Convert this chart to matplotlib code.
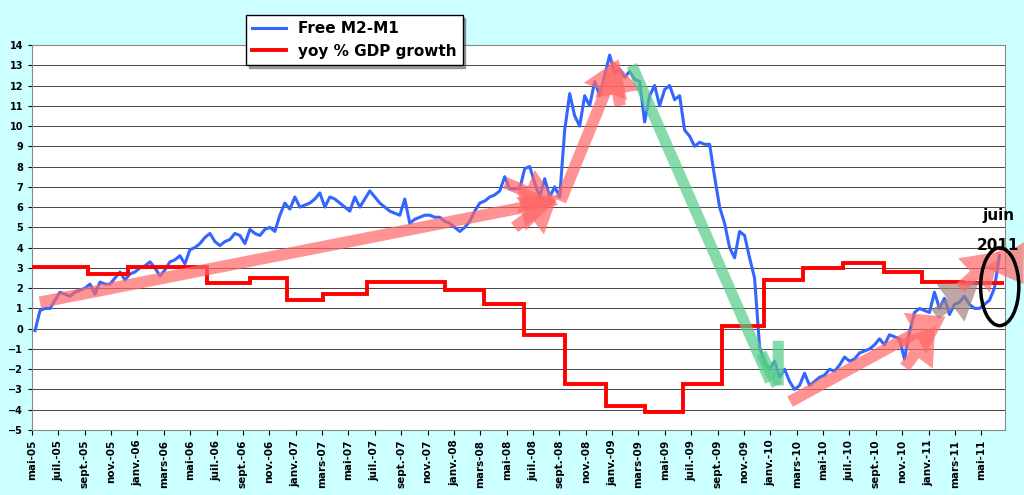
import numpy as np
import matplotlib.pyplot as plt
from matplotlib.patches import Ellipse

# x positions are months since mai-05
tick_labels = ["mai-05", "juil.-05", "sept.-05", "nov.-05", "janv.-06", "mars-06",
               "mai-06", "juil.-06", "sept.-06", "nov.-06", "janv.-07", "mars-07",
               "mai-07", "juil.-07", "sept.-07", "nov.-07", "janv.-08", "mars-08",
               "mai-08", "juil.-08", "sept.-08", "nov.-08", "janv.-09", "mars-09",
               "mai-09", "juil.-09", "sept.-09", "nov.-09", "janv.-10", "mars-10",
               "mai-10", "juil.-10", "sept.-10", "nov.-10", "janv.-11", "mars-11",
               "mai-11"]

# Free M2-M1, sampled about every 0.38 month starting 0.23 month after mai-05
m2m1_start = 0.23
m2m1_step = 0.379
m2m1 = [-0.1, 0.9, 1.0, 1.0, 1.4, 1.8, 1.7, 1.6, 1.8, 1.9, 2.0, 2.2, 1.7, 2.3, 2.2, 2.2,
        2.5, 2.8, 2.4, 2.7, 2.8, 3.0, 3.1, 3.3, 3.0, 2.6, 2.9, 3.3, 3.4, 3.6, 3.2, 3.9,
        4.0, 4.2, 4.5, 4.7, 4.3, 4.1, 4.3, 4.4, 4.7, 4.6, 4.2, 4.9, 4.7, 4.6, 4.9, 5.0,
        4.8, 5.6, 6.2, 5.9, 6.5, 6.0, 6.1, 6.2, 6.4, 6.7, 6.0, 6.5, 6.4, 6.2, 6.0, 5.8,
        6.5, 6.0, 6.4, 6.8, 6.5, 6.2, 6.0, 5.8, 5.7, 5.6, 6.4, 5.2, 5.4, 5.5, 5.6, 5.6,
        5.5, 5.5, 5.3, 5.2, 5.0, 4.8, 5.0, 5.3, 5.8, 6.2, 6.3, 6.5, 6.6, 6.8, 7.5, 6.9,
        6.9, 6.9, 7.9, 8.0, 7.2, 6.5, 7.4, 6.5, 7.0, 6.5, 9.8, 11.6, 10.5, 10.0, 11.5, 11.0,
        12.2, 11.5, 12.5, 13.5, 12.6, 12.8, 12.4, 12.7, 12.3, 12.2, 10.2, 11.5, 12.0, 11.0,
        11.8, 12.0, 11.3, 11.5, 9.8, 9.5, 9.0, 9.2, 9.1, 9.1, 7.5, 6.0, 5.2, 4.0, 3.5, 4.8,
        4.6, 3.5, 2.5, -0.9, -1.7, -2.0, -1.6, -2.4, -2.0, -2.6, -3.0, -2.8, -2.2, -2.8,
        -2.6, -2.4, -2.3, -2.0, -2.1, -1.8, -1.4, -1.6, -1.5, -1.2, -1.1, -1.0, -0.8, -0.5,
        -0.8, -0.3, -0.4, -0.5, -1.5, -0.2, 0.8, 1.0, 0.9, 0.8, 1.8, 1.0, 1.5, 0.7, 1.2,
        1.3, 1.6, 1.2, 1.0, 1.0, 1.2, 1.4, 2.0, 3.6]

# yoy % GDP growth, step function
gdp_edges = [0, 4.25, 7.28, 13.28, 16.54, 19.35, 22.08, 25.42, 28.3, 31.3, 34.3, 37.3,
             40.4, 43.5, 46.5, 49.4, 52.3, 55.5, 58.5, 61.5, 64.6, 67.5, 70.6, 73.7]
gdp = [3.05, 2.7, 3.05, 2.25, 2.5, 1.4, 1.7, 2.3, 2.3, 1.9, 1.2, -0.3, -2.75, -3.8,
       -4.1, -2.75, 0.15, 2.4, 3.0, 3.25, 2.8, 2.3, 2.25]

# hand-drawn trend arrows: (start, end, colour, has head)
arrows = [((0.6, 1.3), (39.7, 6.3), "#ff6666", True),
          ((36.6, 5.0), (39.9, 6.6), "#ff6666", True),
          ((35.9, 7.2), (39.9, 6.1), "#ff6666", True),
          ((40.1, 6.3), (44.5, 13.3), "#ff6666", True),
          ((44.6, 11.0), (44.0, 13.3), "#ff6666", True),
          ((45.5, 13.0), (56.0, -2.6), "#55cc88", False),
          ((55.3, -1.2), (56.5, -2.8), "#55cc88", False),
          ((56.6, -0.6), (56.6, -2.8), "#55cc88", False),
          ((57.5, -3.6), (69.3, 0.6), "#ff6666", True),
          ((66.2, -1.9), (68.5, 0.1), "#ff6666", True),
          ((68.5, 0.7), (71.8, 2.3), "#a08080", True),
          ((70.4, 2.0), (73.4, 3.8), "#ff6666", True),
          ((73.5, 3.9), (75.2, 2.2), "#ff6666", True)]

fig = plt.figure(figsize=(10.24, 4.95), dpi=100, facecolor="#ccffff")
ax = fig.add_axes([32 / 1024, 65 / 495, 973 / 1024, 385 / 495])
ax.set_facecolor("white")

xs = m2m1_start + m2m1_step * np.arange(len(m2m1))
ax.plot(xs, m2m1, color="#3366ff", lw=2.2, label="Free M2-M1", zorder=3)
ax.stairs(gdp, gdp_edges, color="red", lw=2.8, baseline=None, label="yoy % GDP growth", zorder=3)

for (x0, y0), (x1, y1), col, head in arrows:
    style = "simple,head_width=2.4,head_length=1.8,tail_width=0.6" if head else "-"
    ax.annotate("", xy=(x1, y1), xytext=(x0, y0), annotation_clip=False,
                arrowprops=dict(arrowstyle=style, color=col, alpha=0.7, lw=0 if head else 8,
                                capstyle="butt", mutation_scale=14, shrinkA=0, shrinkB=0),
                zorder=4)

ax.add_patch(Ellipse((73.4, 2.07), 2.9, 3.84, fill=False, ec="black", lw=2.5,
                     zorder=5, clip_on=False))
ax.text(73.3, 5.6, "juin", ha="center", va="center", fontsize=11, fontweight="bold", zorder=6)
ax.text(73.3, 4.1, "2011", ha="center", va="center", fontsize=11, fontweight="bold", zorder=6)

ax.set_xlim(0, 73.8)
ax.set_ylim(-5, 14)
ax.set_yticks(range(-5, 15))
ax.set_xticks(np.arange(len(tick_labels)) * 2)
ax.set_xticklabels(tick_labels, rotation=90, fontsize=7.5, fontweight="bold")
ax.tick_params(axis="y", labelsize=7, length=3)
for lab in ax.get_yticklabels():
    lab.set_fontweight("bold")
ax.grid(axis="y", color="#444444", lw=0.7)
ax.set_axisbelow(True)
for s in ax.spines.values():
    s.set_color("#888888")

leg = fig.legend(loc="upper left", bbox_to_anchor=(246 / 1024, 1 - 15 / 495), fancybox=False,
                 shadow=True, edgecolor="black", framealpha=1, handlelength=2.2,
                 borderpad=0.4, borderaxespad=0, prop=dict(weight="bold", size=11))
leg.get_frame().set_linewidth(1)

fig.savefig("out.png", dpi=100, facecolor=fig.get_facecolor())
